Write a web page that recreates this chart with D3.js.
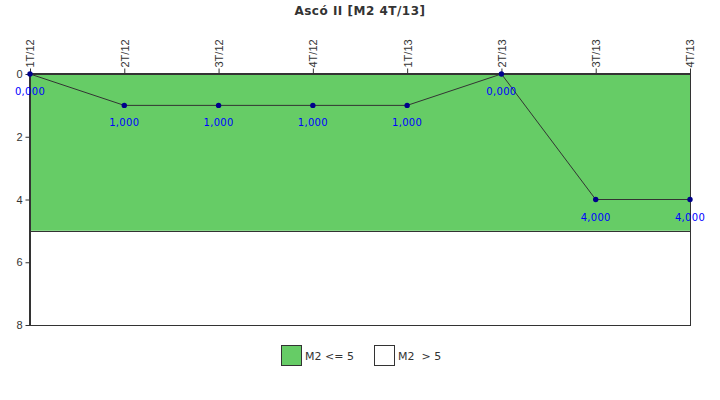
<!DOCTYPE html>
<html>
<head>
  <meta charset="UTF-8">
  <title>Ascó II [M2 4T/13]</title>
  <script src="https://d3js.org/d3.v7.min.js"></script>
  <style>
    body { margin: 0; background: #fff; }
    svg { display: block; font-family: "DejaVu Sans", Verdana, sans-serif; }
    .axis text { font-size: 11px; fill: #333; }
    .axis line, .axis path { stroke: #333; }
    .vlabel { font-size: 10px; fill: #0000ff; text-anchor: middle; letter-spacing: 0.3px; }
  </style>
</head>
<body>
  <svg id="chart" width="720" height="400"></svg>

  <script>
    // datos
    var categories = ["1T/12", "2T/12", "3T/12", "4T/12", "1T/13", "2T/13", "3T/13", "4T/13"];
    var values = [0, 1, 1, 1, 1, 0, 4, 4];
    var yTicks = [0, 2, 4, 6, 8];
    var bands = [
      { label: "M2 <= 5", from: 0, to: 5, color: "#66cc66" },
      { label: "M2  > 5", from: 5, to: 8, color: "#ffffff" }
    ];

    var plotL = 30, plotR = 690, plotT = 74, plotB = 325;

    var svg = d3.select("#chart");

    var x = d3.scalePoint().domain(categories).range([plotL, plotR]);
    var y = d3.scaleLinear().domain([0, 8]).range([plotT, plotB]);

    // titulo
    svg.append("text")
       .attr("x", 360).attr("y", 15)
       .attr("text-anchor", "middle")
       .attr("font-size", 12).attr("font-weight", "bold")
       .attr("letter-spacing", 0.5)
       .attr("fill", "#333")
       .text("Ascó II [M2 4T/13]");

    // bandas
    svg.selectAll("rect.band")
       .data(bands)
       .enter().append("rect")
       .attr("class", "band")
       .attr("x", plotL).attr("width", plotR - plotL)
       .attr("y", function(d) { return y(d.from); })
       .attr("height", function(d) { return y(d.to) - y(d.from); })
       .attr("fill", function(d) { return d.color; });

    svg.append("line")
       .attr("x1", plotL).attr("x2", plotR)
       .attr("y1", Math.round(y(5)) + 0.5).attr("y2", Math.round(y(5)) + 0.5)
       .attr("stroke", "#333");

    // marco
    svg.append("rect")
       .attr("x", plotL + 0.5).attr("y", plotT + 0.5)
       .attr("width", plotR - plotL).attr("height", plotB - plotT)
       .attr("fill", "none").attr("stroke", "#333");
    svg.append("line").attr("x1", plotL).attr("x2", plotR + 1)
       .attr("y1", plotT).attr("y2", plotT).attr("stroke", "#333").attr("stroke-width", 2);
    svg.append("line").attr("x1", plotL).attr("x2", plotL)
       .attr("y1", plotT).attr("y2", plotB + 1).attr("stroke", "#333").attr("stroke-width", 2);

    // ejes
    var yAxis = svg.append("g").attr("class", "axis")
       .attr("transform", "translate(" + (plotL - 0.5) + ",0)")
       .call(d3.axisLeft(y).tickValues(yTicks).tickFormat(d3.format("d")).tickSize(4).tickPadding(3));
    yAxis.select(".domain").remove();

    var xAxis = svg.append("g").attr("class", "axis")
       .attr("transform", "translate(0," + (plotT - 0.5) + ")")
       .call(d3.axisTop(x).tickSize(5).tickPadding(2));
    xAxis.select(".domain").remove();
    xAxis.selectAll("text")
       .attr("transform", "rotate(-90)")
       .attr("text-anchor", "start")
       .attr("dy", "0.35em")
       .attr("x", 6).attr("y", 0);

    // serie
    var line = d3.line()
       .x(function(d, i) { return x(categories[i]); })
       .y(function(d) { return y(d); });

    svg.append("path")
       .datum(values)
       .attr("d", line)
       .attr("fill", "none")
       .attr("stroke", "#333")
       .attr("stroke-width", 1);

    svg.selectAll("circle.pt")
       .data(values)
       .enter().append("circle")
       .attr("class", "pt")
       .attr("cx", function(d, i) { return x(categories[i]); })
       .attr("cy", function(d) { return y(d); })
       .attr("r", 2.7)
       .attr("fill", "#00008b");

    var fmt = function(v) { return d3.format(".3f")(v).replace(".", ","); };
    svg.selectAll("text.vlabel")
       .data(values)
       .enter().append("text")
       .attr("class", "vlabel")
       .attr("x", function(d, i) { return x(categories[i]); })
       .attr("y", function(d) { return y(d) + 21; })
       .text(fmt);

    // leyenda
    var legendX = [281, 374];
    var lg = svg.selectAll("g.legend")
       .data(bands)
       .enter().append("g")
       .attr("class", "legend")
       .attr("transform", function(d, i) { return "translate(" + legendX[i] + ",345)"; });
    lg.append("rect")
       .attr("x", 0.5).attr("y", 0.5).attr("width", 20).attr("height", 20)
       .attr("fill", function(d) { return d.color; })
       .attr("stroke", "#333");
    lg.append("text")
       .attr("x", 24).attr("y", 15)
       .attr("font-size", 11).attr("fill", "#333")
       .style("white-space", "pre")
       .text(function(d) { return d.label; });
  </script>
</body>
</html>
